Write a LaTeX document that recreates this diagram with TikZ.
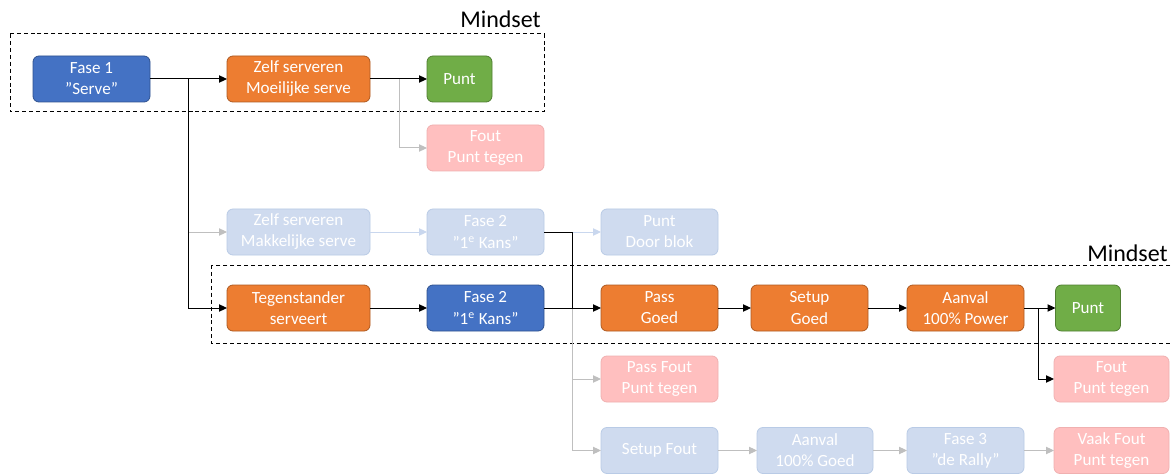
\documentclass[tikz,border=0pt]{standalone}
\usepackage{fontspec}
\setmainfont{Carlito}
\usetikzlibrary{arrows.meta}
\definecolor{cblue}{HTML}{4472C4}
\definecolor{cbluedk}{HTML}{2F528F}
\definecolor{corange}{HTML}{ED7D31}
\definecolor{corangedk}{HTML}{AE5A21}
\definecolor{cgreen}{HTML}{70AD47}
\definecolor{cgreendk}{HTML}{507E32}
\definecolor{cpink}{HTML}{FFBFBF}
\definecolor{cpinkdk}{HTML}{F0B0B0}
\definecolor{cpale}{HTML}{CFDBEF}
\definecolor{cpaledk}{HTML}{B9CBE6}
\definecolor{cgrey}{HTML}{BFBFBF}
\definecolor{clight}{HTML}{C9D7EE}
\tikzset{
 box/.style={rounded corners=4.5pt, minimum height=34.5pt, inner sep=0pt, outer sep=0pt, align=center, text=white, font=\fontsize{12.8}{15.8}\selectfont, line width=0.6pt},
 wbox/.style={minimum width=107.25pt},
 mbox/.style={minimum width=87.75pt},
 sbox/.style={minimum width=48.75pt},
 bluebox/.style={box, fill=cblue, draw=cbluedk},
 orabox/.style={box, fill=corange, draw=corangedk},
 grnbox/.style={box, fill=cgreen, draw=cgreendk},
 pinkbox/.style={box, fill=cpink, draw=cpinkdk},
 palebox/.style={box, fill=cpale, draw=cpaledk},
 arr/.style={-{Triangle[length=6pt,width=5.5pt]}, line width=0.75pt},
 blk/.style={arr, draw=black},
 gry/.style={arr, draw=cgrey},
 lbl/.style={arr, draw=clight},
 blkline/.style={line width=0.75pt, draw=black},
 frame/.style={draw=black, dash pattern=on 3pt off 2.2pt, line width=0.75pt},
 mind/.style={font=\fontsize{18}{21}\selectfont, inner sep=0pt}
}
\begin{document}
\begin{tikzpicture}[x=0.75pt,y=-0.75pt]
\useasboundingbox (0,0) rectangle (1171,474);
\clip (0,0) rectangle (1171,474);
\fill[white] (0,0) rectangle (1171,474);

% frames
\draw[frame] (10,34) rectangle (544,112);
\draw[frame] (211,265) rectangle (1195,343);
\node[mind, anchor=base east] (m1) at (541,28) {Mindset};
\node[mind, anchor=base east] (m2) at (1168,261) {Mindset};

% row 1
\node[bluebox, mbox] (f1) at (91.5,79) {Fase 1\\”Serve”};
\node[orabox, wbox] (zm) at (298.5,79) {Zelf serveren\\Moeilijke serve};
\node[grnbox, sbox] (p1) at (459.5,79) {Punt};
\node[pinkbox, mbox] (fo1) at (485.5,148) {Fout\\Punt tegen};

% row 2
\node[palebox, wbox] (zk) at (298.5,232) {Zelf serveren\\Makkelijke serve};
\node[palebox, mbox] (f2p) at (485.5,232) {Fase 2\\”1\textsuperscript{e} Kans”};
\node[palebox, mbox] (pdb) at (659.5,232) {Punt\\Door blok};

% row 3
\node[orabox, wbox] (ts) at (298.5,308) {Tegenstander\\serveert};
\node[bluebox, mbox] (f2) at (485.5,308) {Fase 2\\”1\textsuperscript{e} Kans”};
\node[orabox, mbox] (pg) at (659.5,308) {Pass\\Goed};
\node[orabox, mbox] (sg) at (809.5,308) {Setup\\Goed};
\node[orabox, mbox] (aa) at (965.5,308) {Aanval\\100\% Power};
\node[grnbox, sbox] (p2) at (1088,308) {Punt};

% row 4
\node[pinkbox, mbox] (pf) at (659.5,379) {Pass Fout\\Punt tegen};
\node[pinkbox, minimum width=86.25pt] (fo2) at (1111.5,379) {Fout\\Punt tegen};

% row 5
\node[palebox, mbox] (sf) at (659.5,450.5) {Setup Fout};
\node[palebox, minimum width=87pt] (ag) at (815,450.5) {Aanval\\100\% Goed};
\node[palebox, mbox] (f3) at (965.5,450.5) {Fase 3\\”de Rally”};
\node[pinkbox, minimum width=86.25pt] (vf) at (1111.5,450.5) {Vaak Fout\\Punt tegen};

% junctions
\coordinate (j1) at (188,79);
\coordinate (j2) at (188,232);
\coordinate (j3) at (399,79);
\coordinate (j5) at (572,308);
\coordinate (j6) at (1038,308);

% light / grey connectors
\draw[gry] (j2) -- (zk.west);
\draw[gry] (j3) |- (fo1.west);
\draw[lbl] (zk.east) -- (f2p.west);
\draw[lbl] (f2p.east) -- (pdb.west);
\draw[gry] (j5) |- (pf.west);
\draw[gry] (j5) |- (sf.west);
\draw[gry] (sf.east) -- (ag.west);
\draw[gry] (ag.east) -- (f3.west);
\draw[gry] (f3.east) -- (vf.west);

% black connectors
\draw[blk] (f1.east) -- (zm.west);
\draw[blk] (j1) |- (ts.west);
\draw[blk] (zm.east) -- (p1.west);
\draw[blkline] (f2p.east) -| (j5);
\draw[blk] (ts.east) -- (f2.west);
\draw[blk] (f2.east) -- (pg.west);
\draw[blk] (pg.east) -- (sg.west);
\draw[blk] (sg.east) -- (aa.west);
\draw[blk] (aa.east) -- (p2.west);
\draw[blk] (j6) |- (fo2.west);
\end{tikzpicture}
\end{document}
